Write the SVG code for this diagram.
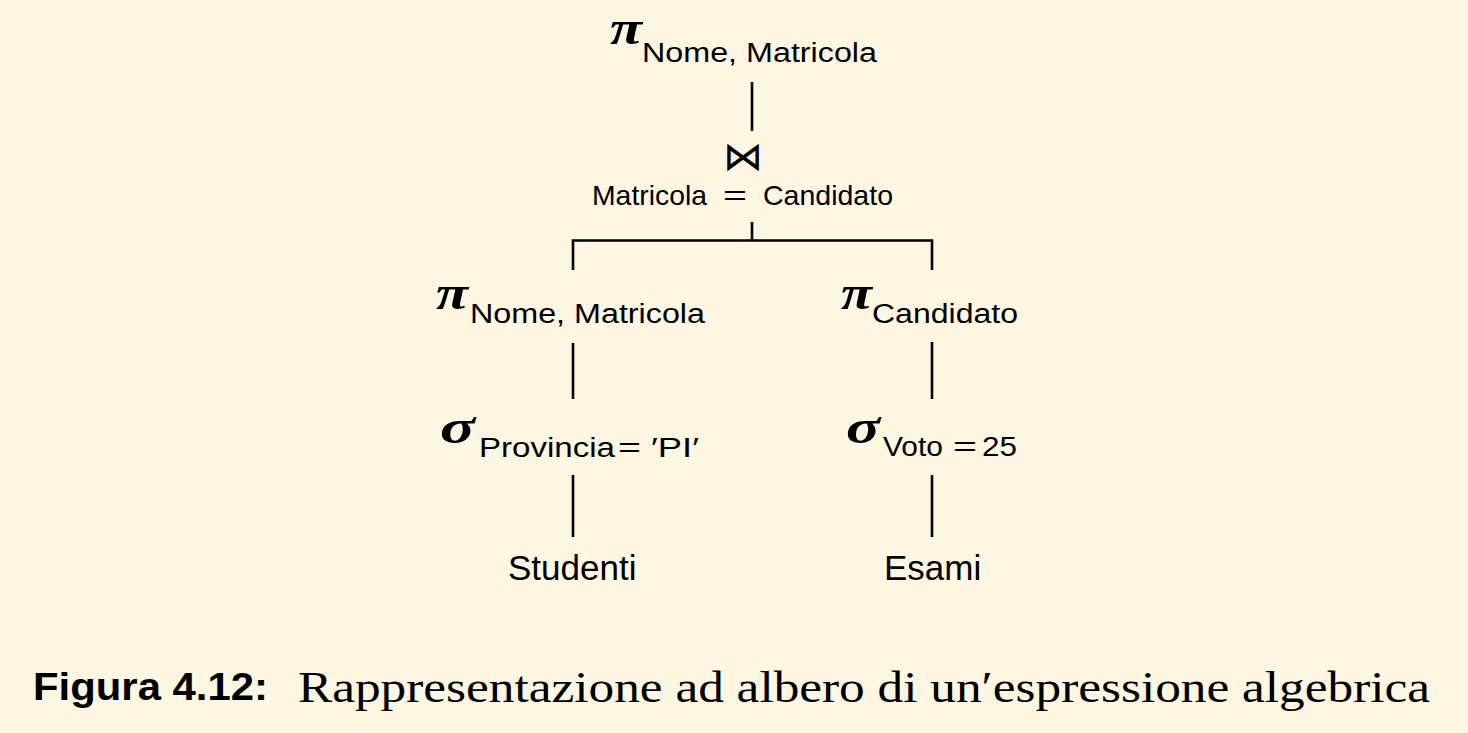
<svg xmlns="http://www.w3.org/2000/svg" width="1468" height="733" viewBox="0 0 1468 733">
<style>
.sym{font-family:"Liberation Serif","DejaVu Serif",serif;font-weight:bold;font-style:italic;font-size:48px;fill:#000}
.sub{font-family:"Liberation Sans",Arial,sans-serif;font-size:27px;fill:#000}
.cond{font-family:"Liberation Sans",Arial,sans-serif;font-size:28px;fill:#000}
.rel{font-family:"Liberation Sans",Arial,sans-serif;font-size:35px;fill:#000}
.edge{stroke:#000;stroke-width:2.6;fill:none}
</style>
<rect width="1468" height="733" fill="#FDF6E3"/>
<g id="connectors">
<line class="edge" x1="752" y1="82" x2="752" y2="131"/>
<line class="edge" x1="752" y1="222" x2="752" y2="240.5"/>
<polyline class="edge" points="573,270 573,240.5 932,240.5 932,270"/>
<line class="edge" x1="573" y1="343" x2="573" y2="399"/>
<line class="edge" x1="573" y1="475" x2="573" y2="537"/>
<line class="edge" x1="932" y1="342" x2="932" y2="399"/>
<line class="edge" x1="932" y1="475" x2="932" y2="537"/>
</g>
<g id="proj-top">
<text class="sym" x="610" y="44" textLength="32" lengthAdjust="spacingAndGlyphs">π</text>
<text class="sub" x="642" y="62" textLength="235" lengthAdjust="spacingAndGlyphs">Nome, Matricola</text>
</g>
<g id="join">
<text x="723" y="170" textLength="40" lengthAdjust="spacingAndGlyphs" style="font-family:'DejaVu Sans',sans-serif;font-size:40px;font-weight:300">⋈</text>
<text class="cond" y="205"><tspan x="592" textLength="115" lengthAdjust="spacingAndGlyphs">Matricola</tspan><tspan x="723" textLength="24" lengthAdjust="spacingAndGlyphs">=</tspan><tspan x="763" textLength="130" lengthAdjust="spacingAndGlyphs">Candidato</tspan></text>
</g>
<g id="proj-left">
<text class="sym" x="436" y="309" textLength="32" lengthAdjust="spacingAndGlyphs">π</text>
<text class="sub" x="470" y="323" textLength="235" lengthAdjust="spacingAndGlyphs">Nome, Matricola</text>
</g>
<g id="proj-right">
<text class="sym" x="841" y="309" textLength="31" lengthAdjust="spacingAndGlyphs">π</text>
<text class="sub" x="872" y="323" textLength="146" lengthAdjust="spacingAndGlyphs">Candidato</text>
</g>
<g id="sel-left">
<text class="sym" x="440" y="443" textLength="35" lengthAdjust="spacingAndGlyphs">σ</text>
<text class="sub" y="457"><tspan x="479" textLength="136" lengthAdjust="spacingAndGlyphs">Provincia</tspan><tspan x="618" textLength="23" lengthAdjust="spacingAndGlyphs">=</tspan><tspan x="651" textLength="48" lengthAdjust="spacingAndGlyphs">′PI′</tspan></text>
</g>
<g id="sel-right">
<text class="sym" x="846" y="443" textLength="34" lengthAdjust="spacingAndGlyphs">σ</text>
<text class="sub" y="456"><tspan x="883" textLength="60" lengthAdjust="spacingAndGlyphs">Voto</tspan><tspan x="953" textLength="24" lengthAdjust="spacingAndGlyphs">=</tspan><tspan x="982" textLength="35" lengthAdjust="spacingAndGlyphs">25</tspan></text>
</g>
<g id="studenti">
<text class="rel" x="508" y="580">Studenti</text>
</g>
<g id="esami">
<text class="rel" x="884" y="580">Esami</text>
</g>
<g id="caption">
<text x="33" y="700" textLength="235" lengthAdjust="spacingAndGlyphs" style="font-family:'Liberation Sans',Arial,sans-serif;font-weight:bold;font-size:39px">Figura 4.12:</text>
<text x="298" y="702" textLength="1132" lengthAdjust="spacingAndGlyphs" style="font-family:'Liberation Serif','Times New Roman',serif;font-size:44px">Rappresentazione ad albero di un′espressione algebrica</text>
</g>
</svg>
